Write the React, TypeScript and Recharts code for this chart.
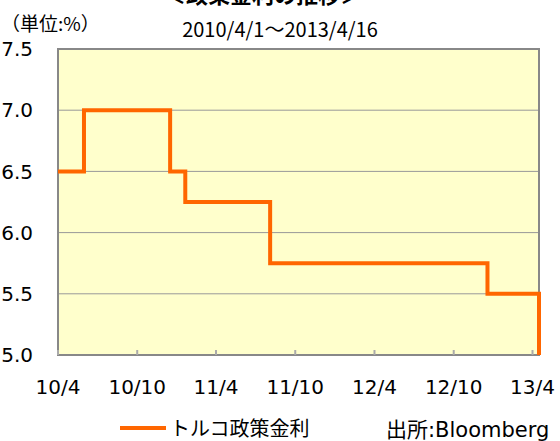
import React from "react"
import { LineChart, Line, XAxis, YAxis, CartesianGrid, ReferenceArea, Legend } from "recharts"

// Turkish policy rate, step changes (y/m/d)
const rateDates = ["2010/4/1", "2010/5/31", "2010/12/16", "2011/1/20", "2011/8/4", "2012/12/18", "2013/4/16"]
const rateValues = [6.5, 7.0, 6.5, 6.25, 5.75, 5.5, 5.0]

const tickDates = ["2010/4/1", "2010/10/1", "2011/4/1", "2011/10/1", "2012/4/1", "2012/10/1", "2013/4/1"]
const tickLabels = ["10/4", "10/10", "11/4", "11/10", "12/4", "12/10", "13/4"]
const yTicks = [5.0, 5.5, 6.0, 6.5, 7.0, 7.5]

const seriesName = "トルコ政策金利"
const startDate = "2010/4/1"
const endDate = "2013/4/16"

const toTime = (s: string) => {
  const [y, m, d] = s.split("/").map(Number)
  return Date.UTC(y, m - 1, d)
}

const data = rateDates.map((d, i) => ({ t: toTime(d), rate: rateValues[i] }))
const xTicks = tickDates.map(toTime)
const xMin = toTime(startDate)
const xMax = toTime(endDate)

const NUM_FONT = "'DejaVu Sans', Verdana, sans-serif"
const JP_FONT = "'Noto Sans CJK JP', sans-serif"
const ORANGE = "#FF6600"

export default function App() {
  const renderLegend = () => (
    <div style={{ display: "flex", alignItems: "center", fontFamily: JP_FONT, fontSize: 20, lineHeight: "24px", color: "#000" }}>
      <div style={{ width: 46, height: 4, background: ORANGE, marginRight: 4 }} />
      <span>{seriesName}</span>
    </div>
  )

  return (
    <div style={{ position: "absolute", left: 0, top: 0, width: 560, height: 441, background: "#fff", overflow: "hidden" }}>
      <LineChart width={560} height={441} data={data} margin={{ top: 49, right: 21, bottom: 46, left: 0 }}>
        <CartesianGrid vertical={false} stroke="#999" fill="#FFFFCC" />
        <XAxis
          dataKey="t"
          type="number"
          domain={[xMin, xMax]}
          ticks={xTicks}
          tickFormatter={(v: number) => tickLabels[xTicks.indexOf(v)]}
          height={40}
          axisLine={false}
          tickSize={-5}
          tickMargin={30}
          tickLine={{ stroke: "#aaa", strokeWidth: 2 }}
          tick={{ fill: "#000", fontSize: 20, fontFamily: NUM_FONT }}
          interval={0}
        />
        <YAxis
          type="number"
          domain={[5, 7.5]}
          ticks={yTicks}
          tickFormatter={(v: number) => v.toFixed(1)}
          width={58}
          axisLine={false}
          tickLine={false}
          tickSize={0}
          tickMargin={25}
          tick={{ fill: "#000", fontSize: 20, fontFamily: NUM_FONT }}
          interval={0}
        />
        <ReferenceArea x1={xMin} x2={xMax} y1={5} y2={7.5} fill="none" stroke="#888" strokeWidth={2} />
        <Line
          type="stepAfter"
          dataKey="rate"
          name={seriesName}
          stroke={ORANGE}
          strokeWidth={4}
          dot={false}
          activeDot={false}
          isAnimationActive={false}
        />
        <Legend
          layout="horizontal"
          verticalAlign="middle"
          align="center"
          content={renderLegend}
          wrapperStyle={{ position: "absolute", top: 416, left: 120, width: "auto" }}
        />
      </LineChart>
      <svg width={560} height={441} style={{ position: "absolute", left: 0, top: 0, pointerEvents: "none" }}>
        <text x={263} y={3} textAnchor="middle" fontFamily={JP_FONT} fontWeight="bold" fontSize={22} fill="#000">
          ＜政策金利の推移＞
        </text>
        <text x={1} y={31} fontFamily={JP_FONT} fontSize={19} fill="#000">
          （単位:%）
        </text>
        <text x={280} y={37} textAnchor="middle" fontFamily={JP_FONT} fontSize={20} fill="#000">
          {startDate}～{endDate}
        </text>
        <text x={386} y={437} fontFamily={`${NUM_FONT}, ${JP_FONT}`} fontSize={21} fill="#000">
          出所:Bloomberg
        </text>
      </svg>
    </div>
  )
}
